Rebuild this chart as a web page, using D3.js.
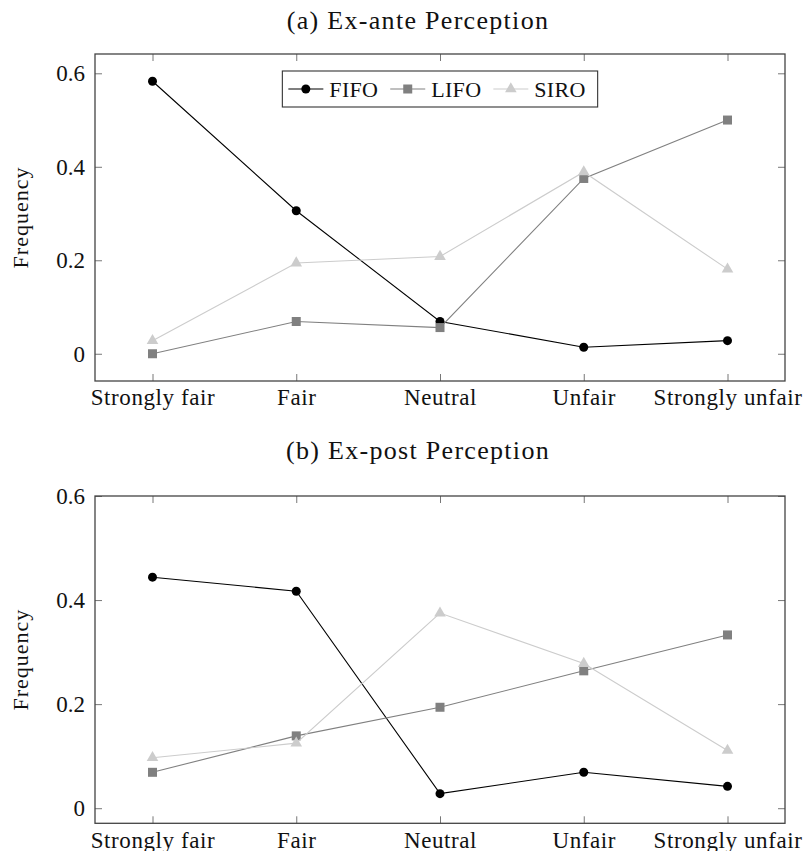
<!DOCTYPE html>
<html>
<head>
<meta charset="utf-8">
<script src="https://cdn.jsdelivr.net/npm/d3@7"></script>
<style>
  body { margin: 0; background: #fff; }
  svg text { font-family: "Liberation Serif", "Times New Roman", serif; fill: #111; }
</style>
</head>
<body>
<svg id="chart" width="804" height="851"></svg>
<script>
const categories = ["Strongly fair", "Fair", "Neutral", "Unfair", "Strongly unfair"]
const seriesNames = ["FIFO", "LIFO", "SIRO"]

// (a) ex-ante
const exAnteFifo = [0.583, 0.306, 0.069, 0.014, 0.028]
const exAnteLifo = [0.000, 0.069, 0.056, 0.375, 0.500]
const exAnteSiro = [0.028, 0.194, 0.208, 0.389, 0.181]

// (b) ex-post
const exPostFifo = [0.444, 0.417, 0.028, 0.069, 0.042]
const exPostLifo = [0.069, 0.139, 0.194, 0.264, 0.333]
const exPostSiro = [0.097, 0.125, 0.375, 0.278, 0.111]

const yTicks = [0, 0.2, 0.4, 0.6]

const colors = {FIFO: "#000000", LIFO: "#808080", SIRO: "#cccccc"}
const serif = '"Liberation Serif", "Times New Roman", serif'
const labelSize = 23

const svg = d3.select("#chart")

const panels = [
	{title: "(a) Ex-ante Perception", titleY: 29, top: 54, bottom: 381,
	 yDomain: [-0.0583, 0.6413], series: [exAnteFifo, exAnteLifo, exAnteSiro], legend: true},
	{title: "(b) Ex-post Perception", titleY: 459, top: 496, bottom: 823.3,
	 yDomain: [-0.029, 0.6], series: [exPostFifo, exPostLifo, exPostSiro], legend: false}
]

const left = 95, right = 785

// draw a marker for a series at (0,0) inside g
function drawMarker(g, name){
	if(name === "FIFO"){
		g.append("circle").attr("r", 4.5).attr("fill", colors.FIFO)
	}
	else if(name === "LIFO"){
		g.append("rect").attr("x", -4.5).attr("y", -4.5)
			.attr("width", 9).attr("height", 9).attr("fill", colors.LIFO)
	}
	else{
		let r = 6.7
		g.append("path")
			.attr("d", `M0,${-r}L${0.866*r},${0.5*r}L${-0.866*r},${0.5*r}Z`)
			.attr("fill", colors.SIRO)
	}
}

panels.forEach(function (p){
	let x = d3.scaleLinear().domain([-0.4, 4.4]).range([left, right])
	let y = d3.scaleLinear().domain(p.yDomain).range([p.bottom, p.top])
	let g = svg.append("g")

	// title
	g.append("text")
		.attr("x", 418).attr("y", p.titleY)
		.attr("text-anchor", "middle")
		.attr("font-family", serif)
		.attr("font-size", 26)
		.attr("letter-spacing", 1.3)
		.text(p.title)

	// axes: bottom with labels, top mirrored ticks
	let xAxis = d3.axisBottom(x).tickValues(d3.range(categories.length))
		.tickFormat(function (d){ return categories[d] }).tickSizeInner(-7).tickSizeOuter(0).tickPadding(14)
	let gx = g.append("g").attr("transform", `translate(0,${p.bottom})`).call(xAxis)
	gx.selectAll("text").attr("font-size", labelSize).attr("dy", "0.45em")
		.attr("letter-spacing", 0.6)

	let xTop = d3.axisTop(x).tickValues(d3.range(categories.length))
		.tickFormat("").tickSizeInner(-7).tickSizeOuter(0)
	let gxt = g.append("g").attr("transform", `translate(0,${p.top})`).call(xTop)

	let yAxis = d3.axisLeft(y).tickValues(yTicks)
		.tickFormat(function (d){ return d === 0 ? "0" : d3.format(".1f")(d) })
		.tickSizeInner(-7).tickSizeOuter(0).tickPadding(10)
	let gy = g.append("g").attr("transform", `translate(${left},0)`).call(yAxis)
	gy.selectAll("text").attr("font-size", labelSize)

	let yRight = d3.axisRight(y).tickValues(yTicks).tickFormat("").tickSizeInner(-7).tickSizeOuter(0)
	let gyr = g.append("g").attr("transform", `translate(${right},0)`).call(yRight)

	;[gx, gxt, gy, gyr].forEach(function (a){
		a.attr("font-family", serif)
		a.select(".domain").remove()
		a.selectAll(".tick line").attr("stroke", "#777").attr("stroke-width", 1)
	})

	// frame
	g.append("rect")
		.attr("x", left).attr("y", p.top)
		.attr("width", right - left).attr("height", p.bottom - p.top)
		.attr("fill", "none").attr("stroke", "#444").attr("stroke-width", 1.3)

	// y label
	g.append("text")
		.attr("transform", `translate(28,${(p.top + p.bottom) / 2}) rotate(-90)`)
		.attr("text-anchor", "middle")
		.attr("font-family", serif)
		.attr("font-size", 22)
		.attr("letter-spacing", 1)
		.text("Frequency")

	// series
	let line = d3.line().x(function (d, i){ return x(i) }).y(function (d){ return y(d) })
	p.series.forEach(function (vals, si){
		let name = seriesNames[si]
		g.append("path").datum(vals)
			.attr("d", line)
			.attr("fill", "none")
			.attr("stroke", colors[name])
			.attr("stroke-width", 1.1)
		g.selectAll(null).data(vals).enter()
			.append("g")
			.attr("transform", function (d, i){ return `translate(${x(i)},${y(d)})` })
			.each(function (){ drawMarker(d3.select(this), name) })
	})

	// legend
	if(p.legend){
		let lg = g.append("g")
		let cx = 0
		let boxH = 36
		seriesNames.forEach(function (name, i){
			let e = lg.append("g").attr("transform", `translate(${cx},0)`)
			e.append("line").attr("x1", 0).attr("x2", 35).attr("y1", 0).attr("y2", 0)
				.attr("stroke", colors[name]).attr("stroke-width", 1.1)
			drawMarker(e.append("g").attr("transform", "translate(17.5,0)"), name)
			let t = e.append("text").attr("x", 41).attr("y", 7.5)
				.attr("font-family", serif)
				.attr("font-size", 22).attr("letter-spacing", 0.3).text(name)
			cx += 41 + t.node().getComputedTextLength() + (i < seriesNames.length - 1 ? 12 : 0)
		})
		let boxW = cx + 18
		let bx = (left + right) / 2 - boxW / 2
		let by = p.top + 17
		lg.attr("transform", `translate(${bx + 6},${by + boxH / 2})`)
		g.insert("rect", function (){ return lg.node() })
			.attr("x", bx).attr("y", by).attr("width", boxW).attr("height", boxH)
			.attr("fill", "#fff").attr("stroke", "#333").attr("stroke-width", 1.1)
	}
})
</script>
</body>
</html>
